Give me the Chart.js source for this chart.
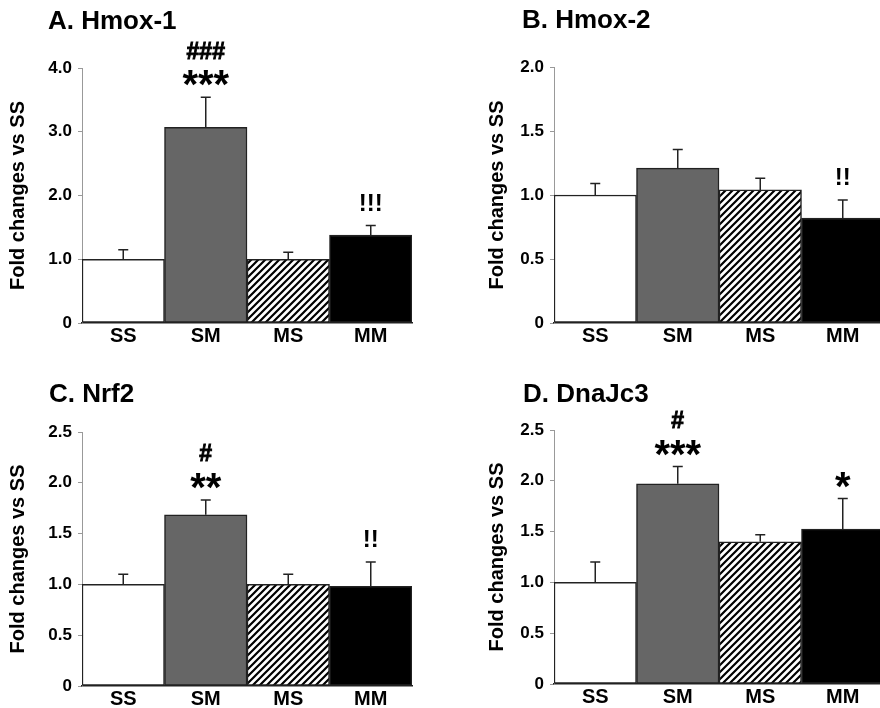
<!DOCTYPE html>
<html><head><meta charset="utf-8">
<script src="https://cdn.jsdelivr.net/npm/chart.js@4.4.1/dist/chart.umd.min.js"></script>
<style>
html,body{margin:0;padding:0;background:#fff;overflow:hidden;width:880px;height:708px;}
#wrap{position:relative;width:880px;height:708px;overflow:hidden;background:#fff;}
.p{position:absolute;}
canvas{display:block;}
</style></head><body>
<div id="wrap">
<div class="p" style="left:0;top:0;"><canvas id="cA" width="440" height="350"></canvas></div>
<div class="p" style="left:440px;top:0;"><canvas id="cB" width="444" height="350"></canvas></div>
<div class="p" style="left:0;top:350px;"><canvas id="cC" width="440" height="358"></canvas></div>
<div class="p" style="left:440px;top:350px;"><canvas id="cD" width="444" height="358"></canvas></div>
</div>
<script>
// ---- data ----
const categories = ['SS', 'SM', 'MS', 'MM'];

const hmox1Title = 'A. Hmox-1';
const hmox1Means = [1.0, 3.07, 1.0, 1.38];
const hmox1Errors = [0.15, 0.47, 0.11, 0.15];
const hmox1Ticks = ['0', '1.0', '2.0', '3.0', '4.0'];
const hmox1Marks = [[], ['***', '###'], [], ['!!!']];

const hmox2Title = 'B. Hmox-2';
const hmox2Means = [1.0, 1.21, 1.04, 0.82];
const hmox2Errors = [0.09, 0.145, 0.09, 0.14];
const hmox2Ticks = ['0', '0.5', '1.0', '1.5', '2.0'];
const hmox2Marks = [[], [], [], ['!!']];

const nrf2Title = 'C. Nrf2';
const nrf2Means = [1.0, 1.685, 1.0, 0.98];
const nrf2Errors = [0.10, 0.145, 0.10, 0.24];
const nrf2Ticks = ['0', '0.5', '1.0', '1.5', '2.0', '2.5'];
const nrf2Marks = [[], ['**', '#'], [], ['!!']];

const dnajc3Title = 'D. DnaJc3';
const dnajc3Means = [1.0, 1.97, 1.40, 1.525];
const dnajc3Errors = [0.20, 0.17, 0.07, 0.30];
const dnajc3Ticks = ['0', '0.5', '1.0', '1.5', '2.0', '2.5'];
const dnajc3Marks = [[], ['***', '#'], [], ['*']];

const yAxisTitle = 'Fold changes vs SS';

// ---- styling helpers ----
const FONT = '"Liberation Sans", Arial, Helvetica, sans-serif';

function hatchPattern() {
  const s = 7;
  const c = document.createElement('canvas');
  c.width = s; c.height = s;
  const g = c.getContext('2d');
  g.fillStyle = '#fff';
  g.fillRect(0, 0, s, s);
  g.strokeStyle = '#000';
  g.lineWidth = 2.2;
  g.beginPath();
  g.moveTo(-1, s + 1); g.lineTo(s + 1, -1);
  g.moveTo(-2, 2); g.lineTo(2, -2);
  g.moveTo(s - 2, s + 2); g.lineTo(s + 2, s - 2);
  g.stroke();
  return g.createPattern(c, 'repeat');
}

const barFills = ['#ffffff', '#666666', hatchPattern(), '#000000'];

const panelPlugin = {
  id: 'panelDeco',
  afterDatasetsDraw(chart, args, opts) {
    const ctx = chart.ctx;
    const ys = chart.scales.y;
    const ds = chart.data.datasets[0];
    const meta = chart.getDatasetMeta(0);
    ctx.save();
    ctx.strokeStyle = '#222';
    ctx.lineWidth = 1.5;
    meta.data.forEach((bar, i) => {
      const v = ds.data[i];
      const e = opts.errors[i];
      const yb = ys.getPixelForValue(v);
      const yt = ys.getPixelForValue(v + e);
      ctx.strokeStyle = '#222';
      ctx.lineWidth = 1.5;
      ctx.beginPath();
      ctx.moveTo(bar.x, yb);
      ctx.lineTo(bar.x, yt);
      ctx.moveTo(bar.x - 5, yt);
      ctx.lineTo(bar.x + 5, yt);
      ctx.stroke();
      // significance marks
      const marks = opts.marks[i] || [];
      ctx.fillStyle = '#000';
      ctx.textAlign = 'center';
      ctx.textBaseline = 'middle';
      marks.forEach((m, r) => {
        let size, dy = 0;
        if (m[0] === '*') { size = 40; dy = 9; }
        else if (m[0] === '#') { size = 23; }
        else { size = 24; }
        const base = (marks[0][0] === '*') ? 19 : 21.5;
        const y = yt - base - r * 26;
        ctx.font = 'bold ' + size + 'px ' + FONT;
        ctx.fillText(m, bar.x, y + dy);
        if (m[0] === '#') {
          ctx.strokeStyle = '#000';
          ctx.lineWidth = 0.9;
          ctx.strokeText(m, bar.x, y + dy);
        }
      });
    });
    // panel title
    ctx.font = 'bold 26px ' + FONT;
    ctx.textAlign = 'left';
    ctx.textBaseline = 'middle';
    ctx.fillStyle = '#000';
    ctx.fillText(opts.title, opts.titleX, opts.titleY);
    ctx.restore();
  }
};

function makeChart(id, cfg) {
  const maxV = parseFloat(cfg.ticks[cfg.ticks.length - 1]);
  const step = parseFloat(cfg.ticks[1]);
  return new Chart(document.getElementById(id), {
    type: 'bar',
    data: {
      labels: categories,
      datasets: [{
        data: cfg.means,
        backgroundColor: barFills,
        borderColor: '#222',
        borderWidth: 1.5,
        borderSkipped: false,
        categoryPercentage: 1.0,
        barPercentage: 1.0
      }]
    },
    options: {
      responsive: false,
      animation: false,
      events: [],
      layout: { padding: cfg.padding },
      plugins: {
        legend: { display: false },
        tooltip: { enabled: false },
        title: { display: false },
        panelDeco: { errors: cfg.errors, marks: cfg.marks, title: cfg.title, titleX: cfg.titleX, titleY: cfg.titleY }
      },
      scales: {
        x: {
          grid: { display: false, drawTicks: false },
          border: { display: true, color: '#222', width: 1.5 },
          ticks: { color: '#000', font: { family: FONT, size: 20, weight: 'bold' }, padding: 1, maxRotation: 0 },
          afterFit(s) { s.height = cfg.xHeight; }
        },
        y: {
          min: 0, max: maxV,
          grid: { drawOnChartArea: false, drawTicks: true, tickLength: 4, color: '#999' },
          border: { display: true, color: '#999', width: 1 },
          ticks: {
            stepSize: step,
            color: '#000',
            padding: 6,
            font: { family: FONT, size: 17, weight: 'bold' },
            callback: (v, i) => cfg.ticks[i]
          },
          title: {
            display: true, text: yAxisTitle, color: '#000',
            font: { family: FONT, size: 20, weight: 'bold' },
            padding: { top: 6, bottom: 0 }
          },
          afterFit(s) { s.width = cfg.yWidth; }
        }
      }
    },
    plugins: [panelPlugin]
  });
}

makeChart('cA', { means: hmox1Means, errors: hmox1Errors, ticks: hmox1Ticks, marks: hmox1Marks, title: hmox1Title,
  titleX: 48, titleY: 22, padding: { left: 0, top: 68, right: 28, bottom: 0 }, yWidth: 82, xHeight: 27 });
makeChart('cB', { means: hmox2Means, errors: hmox2Errors, ticks: hmox2Ticks, marks: hmox2Marks, title: hmox2Title,
  titleX: 82, titleY: 21, padding: { left: 39, top: 67, right: 0, bottom: 0 }, yWidth: 75, xHeight: 27 });
makeChart('cC', { means: nrf2Means, errors: nrf2Errors, ticks: nrf2Ticks, marks: nrf2Marks, title: nrf2Title,
  titleX: 49, titleY: 45, padding: { left: 0, top: 82, right: 28, bottom: 0 }, yWidth: 82, xHeight: 22 });
makeChart('cD', { means: dnajc3Means, errors: dnajc3Errors, ticks: dnajc3Ticks, marks: dnajc3Marks, title: dnajc3Title,
  titleX: 83, titleY: 45, padding: { left: 39, top: 80, right: 0, bottom: 0 }, yWidth: 75, xHeight: 24 });
</script>
</body></html>
